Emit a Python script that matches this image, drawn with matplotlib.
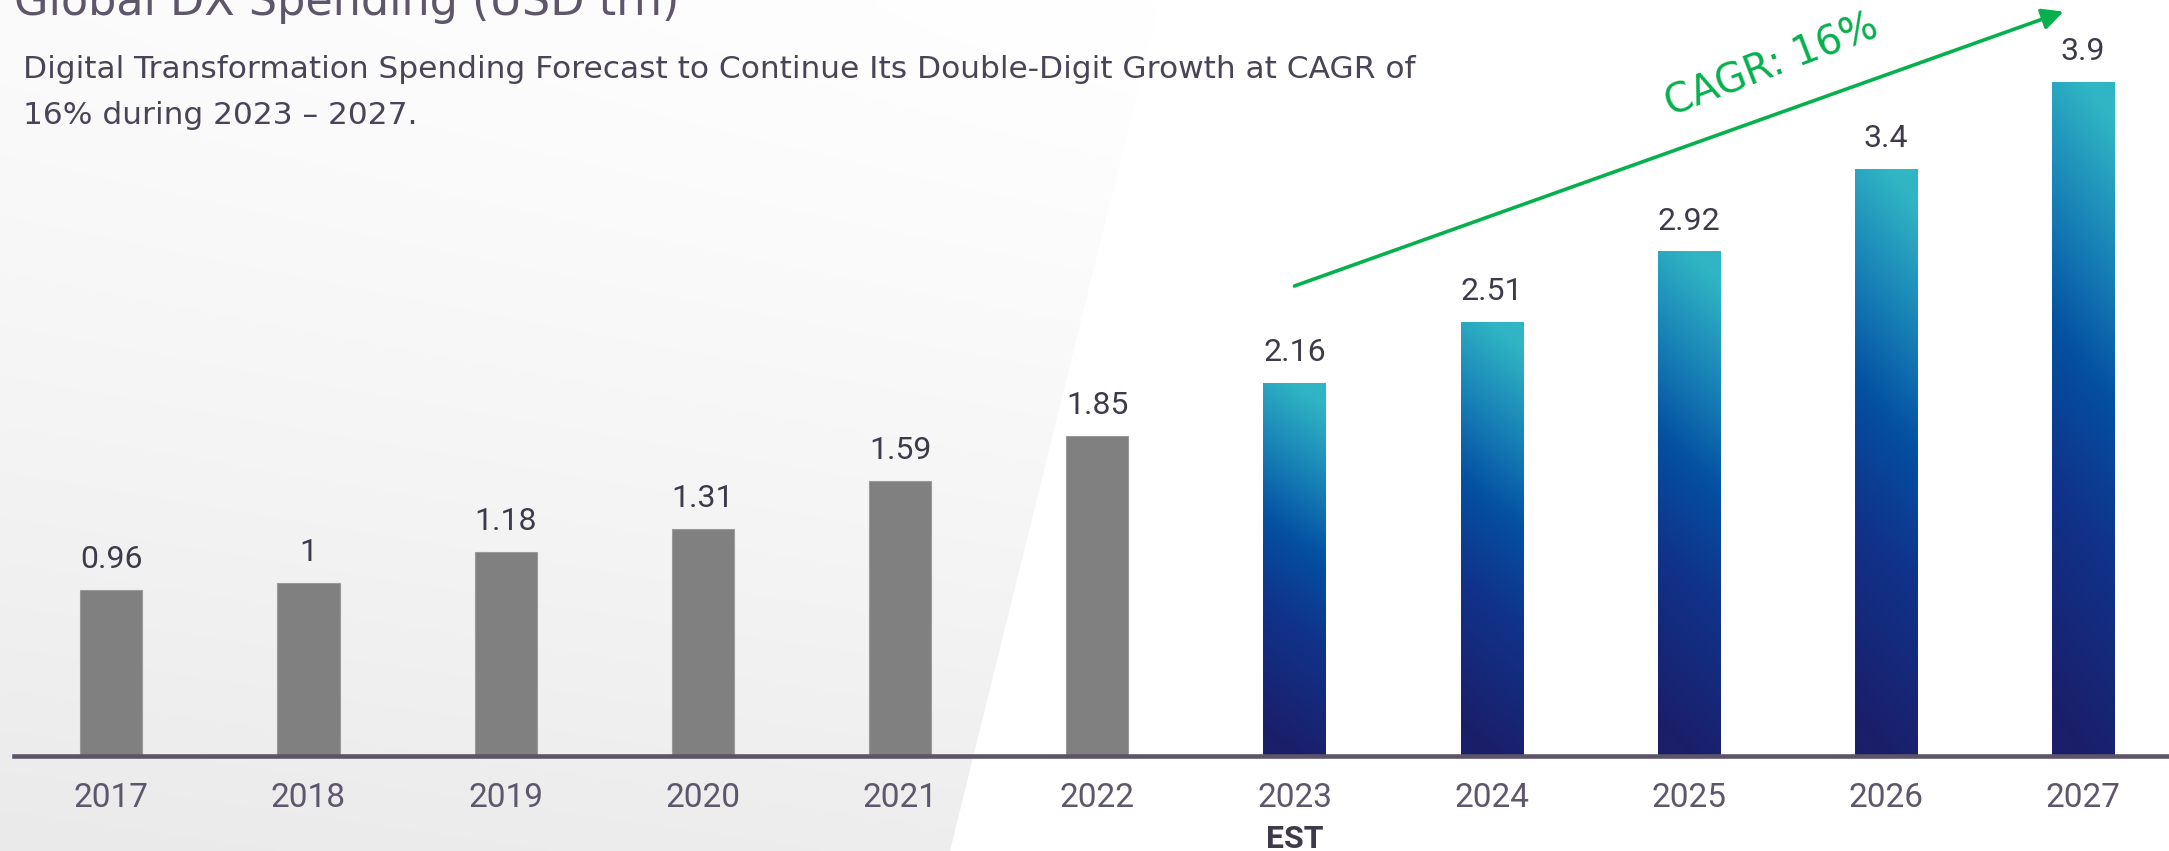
import matplotlib
matplotlib.use('Agg')
import matplotlib.pyplot as plt
import matplotlib.patches as mpatches
from matplotlib.colors import LinearSegmentedColormap
import numpy as np

# ─── Data ───────────────────────────────────────────────────────────────
years = ['2017', '2018', '2019', '2020', '2021', '2022',
         '2023', '2024', '2025', '2026', '2027']
spending = [0.96, 1.00, 1.18, 1.31, 1.59, 1.85, 2.16, 2.51, 2.92, 3.40, 3.90]
forecast_start = 6          # 2023 onwards drawn with the blue gradient
est_year = '2023'

cagr_label = 'CAGR: 16%'
title = 'Global DX Spending (USD trn)'
subtitle = ['Digital Transformation Spending Forecast to Continue Its Double-Digit Growth at CAGR of',
            '16% during 2023 \u2013 2027.']

# ─── Style ──────────────────────────────────────────────────────────────
W, H = 2169, 851
green = '#06B04D'
dark_txt = '#3F3A4A'
year_txt = '#5E566B'
axis_col = '#5C5468'
gray_bar = '#808080'
blue_cmap = LinearSegmentedColormap.from_list(
    'dx', [(0.0, '#1B1E69'), (0.35, '#10338A'), (0.58, '#0450A2'),
           (0.8, '#1A86B8'), (1.0, '#30B5C4')])
num_font = ['Roboto', 'DejaVu Sans']
txt_font = ['DejaVu Sans']

fig = plt.figure(figsize=(W / 100, H / 100), dpi=100, facecolor='white')

# ─── Background: soft grey slanted panel on the left ───────────────────
ax_bg = fig.add_axes([0, 0, 1, 1], zorder=0)
ax_bg.set_xlim(0, W)
ax_bg.set_ylim(H, 0)
ax_bg.axis('off')
gx, gy = np.meshgrid(np.linspace(0, W, 400), np.linspace(0, H, 200))
f = np.clip(0.8 * (gy / H) ** 1.3 + 0.2 * (1 - gx / 1148), 0, 1)
shade = 1 - (1 - 234 / 255) * f
img = ax_bg.imshow(np.dstack([shade, shade, shade]), extent=(0, W, H, 0),
                   aspect='auto', interpolation='bilinear')
panel = mpatches.Polygon([(0, 0), (1160, 0), (950, H), (0, H)],
                         closed=True, transform=ax_bg.transData)
img.set_clip_path(panel)

# ─── Main axes ──────────────────────────────────────────────────────────
x0_px, base_px = 14, 755.5
ax = fig.add_axes([x0_px / W, (H - base_px) / H, (W - x0_px) / W, base_px / H], zorder=1)
ax.patch.set_alpha(0)
x = np.arange(len(years))
ax.set_xlim(-0.4934, 10.435)
ax.set_ylim(0, 4.377)

bar_w = 0.315
bars = ax.bar(x, spending, width=bar_w, color=gray_bar,
              edgecolor='#9A9A9A', linewidth=0.8, zorder=2)

# gradient fill for forecast bars
u, v = np.meshgrid(np.linspace(0, 1, 32), np.linspace(0, 1, 256))
grad = np.clip(v + 0.12 * (u - 0.5), 0, 1)
for i in range(forecast_start, len(years)):
    b = bars[i]
    b.set_facecolor('none')
    b.set_edgecolor('none')
    im = ax.imshow(grad, cmap=blue_cmap, origin='lower', aspect='auto',
                   extent=(x[i] - bar_w / 2, x[i] + bar_w / 2, 0, spending[i]),
                   vmin=0, vmax=1, zorder=2)
    im.set_clip_path(b)

# value labels
for xi, val in zip(x, spending):
    ax.annotate(f'{val:g}', (xi, val), xytext=(0, 15.8), textcoords='offset points',
                ha='center', va='baseline', fontsize=23, color=dark_txt,
                family=num_font)

# axis styling
for s in ['top', 'right', 'left']:
    ax.spines[s].set_visible(False)
ax.spines['bottom'].set_color(axis_col)
ax.spines['bottom'].set_linewidth(3.3)
ax.spines['bottom'].set_zorder(3)
ax.set_yticks([])
ax.set_xticks(x, years)
ax.tick_params(axis='x', length=0, pad=19, labelsize=24, labelcolor=year_txt)
for lbl in ax.get_xticklabels():
    lbl.set_family(num_font)

ax.text(years.index(est_year), -92.5 / base_px, 'EST', transform=ax.get_xaxis_transform(),
        ha='center', va='baseline', fontsize=23, fontweight='bold', color=dark_txt,
        family=num_font)

# ─── CAGR arrow ─────────────────────────────────────────────────────────
ax.annotate('', xy=(9.90, 4.31), xytext=(6.0, 2.72),
            arrowprops=dict(arrowstyle='-|>', color=green, lw=2.6,
                            mutation_scale=32, shrinkA=0, shrinkB=0),
            zorder=4)
ax.text(8.42, 3.995, cagr_label, rotation=21, rotation_mode='anchor',
        ha='center', va='center', fontsize=28.5, color=green, family=txt_font)

# ─── Title & subtitle ───────────────────────────────────────────────────
fig.text(14 / W, 1 - 15 / H, title, ha='left', va='baseline',
         fontsize=32, color=year_txt, family=txt_font)
fig.text(22.7 / W, 1 - 78 / H, subtitle[0], ha='left', va='baseline',
         fontsize=22.5, color='#4A4456', family=txt_font)
fig.text(22.7 / W, 1 - 124 / H, subtitle[1], ha='left', va='baseline',
         fontsize=22.5, color='#4A4456', family=txt_font)

fig.savefig('out.png', dpi=100, facecolor='white')
plt.close(fig)
